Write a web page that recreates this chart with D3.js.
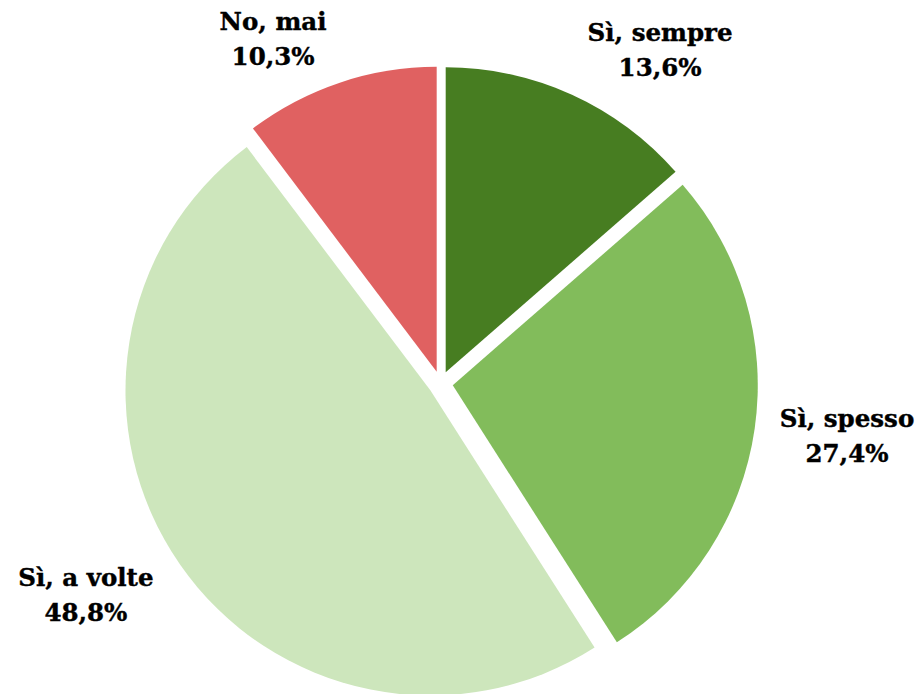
<!DOCTYPE html>
<html>
<head>
	<title>index</title>
	<meta charset="UTF-8">
	<script src="https://d3js.org/d3.v7.min.js" charset="utf-8"></script>
	<style>
		body {
			margin: 0;
			background: #fff;
		}
		svg {
			display: block;
		}
		.lbl {
			font-family: "DejaVu Serif", serif;
			font-weight: bold;
			font-size: 24.5px;
			fill: #000;
			stroke: #000;
			stroke-width: 0.4;
		}
	</style>
</head>
<body>
<script>
		// data
		var categories = ["Sì, sempre", "Sì, spesso", "Sì, a volte", "No, mai"];
		var values = [13.6, 27.4, 48.8, 10.3];
		var valueLabels = ["13,6%", "27,4%", "48,8%", "10,3%"];

		// layout
		var width = 924, height = 694;
		var cx = 440.6, cy = 383.5;
		var radius = 305;
		var explode = 12.3;
		var colors = ["#477d21", "#82bc5b", "#cde6bc", "#e06161"];
		// label placement: angle (deg, clockwise from 12 o'clock) and distance from pie centre
		var labelAngle = [34.0, 98.6, 238.2, 333.5];
		var labelDist = [392.5, 411, 417.4, 375.5];
		var lineGap = 17.5;

		var svg = d3.select("body").append("svg")
			.attr("width", width)
			.attr("height", height);

		var pie = d3.pie().sort(null).startAngle(0).endAngle(2 * Math.PI);
		var arcs = pie(values);
		var arc = d3.arc().innerRadius(0).outerRadius(radius);

		var g = svg.append("g").attr("transform", "translate(" + cx + "," + cy + ")");

		g.selectAll("path.slice")
			.data(arcs)
			.enter()
			.append("path")
			.attr("class", "slice")
			.attr("d", arc)
			.attr("fill", function(d, i) { return colors[i]; })
			.attr("transform", function(d) {
				var mid = (d.startAngle + d.endAngle) / 2;
				var dx = explode * Math.sin(mid);
				var dy = -explode * Math.cos(mid);
				return "translate(" + dx + "," + dy + ")";
			});

		var labels = g.selectAll("text.lbl")
			.data(arcs)
			.enter()
			.append("text")
			.attr("class", "lbl")
			.attr("text-anchor", "middle")
			.attr("transform", function(d, i) {
				var a = labelAngle[i] * Math.PI / 180;
				var x = labelDist[i] * Math.sin(a);
				var y = -labelDist[i] * Math.cos(a);
				return "translate(" + x + "," + y + ")";
			});

		labels.append("tspan")
			.attr("x", 0)
			.attr("y", -lineGap)
			.text(function(d, i) { return categories[i]; });

		labels.append("tspan")
			.attr("x", 0)
			.attr("y", lineGap)
			.text(function(d, i) { return valueLabels[i]; });
</script>
</body>
</html>
